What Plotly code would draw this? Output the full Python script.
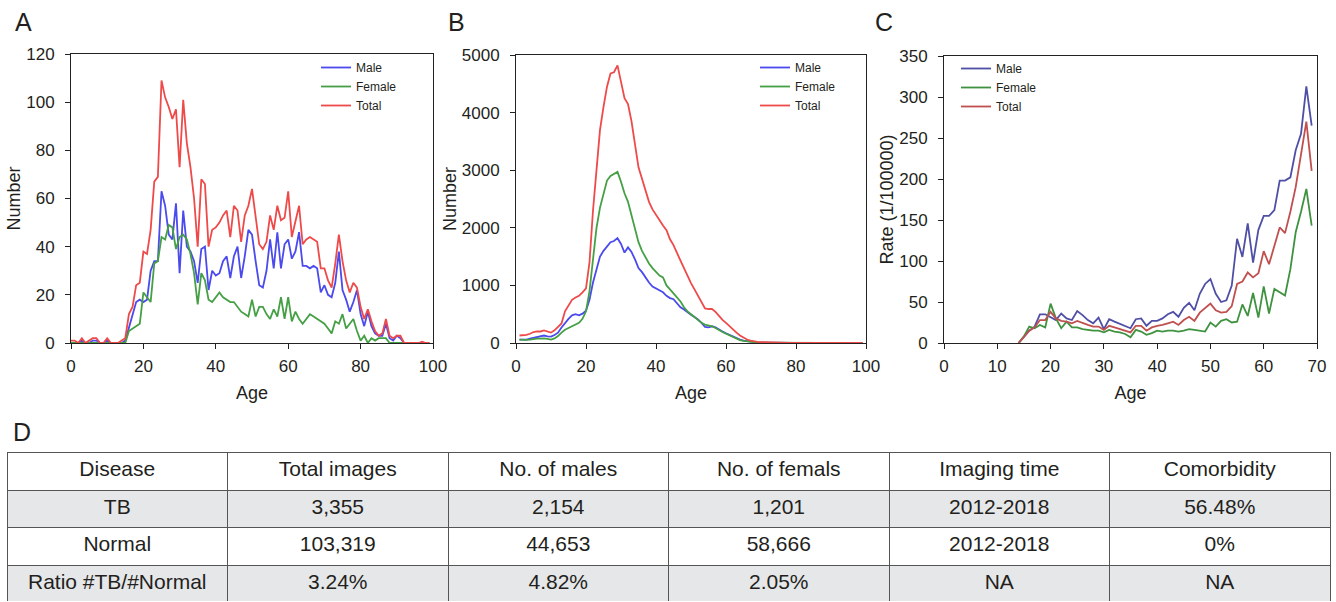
import plotly.graph_objects as go

# ---------------- Data ----------------
ages_a = list(range(0, 100))
a_male = [0,0,0,1,0,0,1,1,0,0, 1,0,0,0,0,1,6,12,17,18,
          17,18,30,34,34,63,57,45,43,58, 29,55,40,38,34,25,39,40,22,30,
          28,29,34,36,27,36,40,27,36,47, 45,34,24,23,30,43,31,46,31,41,
          43,35,38,46,32,32,31,32,31,21, 24,20,19,25,38,22,18,13,17,22,
          12,7,13,7,4,3,3,8,2,1, 3,2,0,0,0,0,0,0,0,0]
a_female = [0,0,0,0,0,0,0,0,0,0, 0,0,0,0,0,0,5,6,7,8,
            21,19,17,33,34,44,43,49,48,39, 44,45,43,37,29,16,29,26,18,17,
            19,21,19,18,17,17,15,13,12,11, 18,11,15,15,12,10,14,11,19,10,
            19,9,13,10,8,10,12,11,10,9, 8,6,4,9,8,12,6,8,10,5,
            1,3,0,2,1,2,2,2,0,0, 0,0,0,0,0,0,0,0,0,0]
a_total = [1,1,0,2,0,1,2,2,0,0, 2,0,0,0,1,2,12,15,24,25,
           38,37,47,67,69,109,102,98,93,97, 73,101,83,73,60,40,68,66,40,47,
           48,50,53,55,44,57,55,42,53,57, 64,52,41,39,42,53,47,57,51,52,
           63,44,50,57,41,43,44,43,42,31, 31,26,23,33,45,34,26,21,25,23,
           15,10,14,9,5,3,4,10,3,2, 3,3,0,0,0,0,0,0.5,0,0]

ages_b = list(range(1, 100))
b_male = [60,55,60,75,90,100,120,130,115,110,
          140,180,270,350,420,480,500,480,510,560,
          750,1050,1300,1500,1600,1680,1750,1770,1820,1720,
          1570,1660,1580,1450,1300,1230,1130,1050,980,950,
          920,880,820,780,760,680,620,580,530,490,
          450,410,350,280,270,290,270,230,200,170,
          140,110,80,60,40,30,20,15,10,8,
          6,5,4,3,3,2,2,2,1,1,1,1,1,1,0,0,0,0,0,0,0,0,0,0,0,0,0,0,0]
b_female = [60,55,55,60,70,75,75,80,70,60,
            80,120,180,230,260,290,310,350,420,550,
            900,1500,2000,2350,2600,2820,2900,2930,2970,2800,
            2600,2450,2200,1950,1750,1600,1480,1380,1300,1240,
            1170,1140,1000,930,860,800,720,620,550,500,
            450,400,350,320,310,290,260,220,190,160,
            130,100,70,50,35,25,15,10,8,5,
            4,3,3,2,2,2,1,1,1,1,1,1,1,0,0,0,0,0,0,0,0,0,0,0,0,0,0,0,0]
b_total = [130,130,140,160,190,200,200,220,200,180,
           220,280,340,550,650,750,790,820,880,950,
           1400,2300,3000,3700,4100,4450,4680,4700,4820,4550,
           4250,4150,3850,3450,3050,2850,2650,2450,2320,2220,
           2130,2040,1960,1800,1700,1550,1430,1300,1160,1040,
           930,820,720,600,590,590,540,470,400,350,
           290,230,180,130,90,60,40,25,20,15,
           12,10,8,6,5,4,4,3,3,2,2,2,1,1,1,1,1,1,1,1,0,0,0,0,0,0,0,0,0]

ages_c = list(range(14, 70))
c_male = [0,7,15,20,35,35,32,28,36,30,28,39,34,28,24,31,17,29,26,23,21,18,29,30,21,27,
          27,30,35,38,32,43,49,40,60,72,78,60,50,52,70,127,105,146,98,138,155,155,162,198,
          198,202,235,255,313,265]
c_female = [0,8,20,18,22,19,48,30,18,26,19,19,17,16,15,15,13,16,14,13,11,7,16,14,10,12,
            15,14,15,15,14,15,17,16,15,14,25,20,27,29,25,26,47,33,61,31,69,36,66,62,
            58,90,135,160,188,143]
c_total = [0,7,15,19,28,28,38,30,27,26,24,27,24,22,20,20,16,21,19,17,15,13,21,21,15,19,
           21,22,24,26,22,28,32,27,37,42,48,40,37,38,45,72,75,86,80,85,112,96,118,141,
           134,160,190,230,270,210]

series_names = ["Male", "Female", "Total"]

table_header = ["Disease", "Total images", "No. of males", "No. of femals", "Imaging time", "Comorbidity"]
col_disease = ["TB", "Normal", "Ratio #TB/#Normal"]
col_total = ["3,355", "103,319", "3.24%"]
col_males = ["2,154", "44,653", "4.82%"]
col_females = ["1,201", "58,666", "2.05%"]
col_time = ["2012-2018", "2012-2018", "NA"]
col_comorb = ["56.48%", "0%", "NA"]

# ---------------- Styling ----------------
W, H = 1336, 602
FONT = "Liberation Sans, Arial, sans-serif"
TXT = "#231f20"
colors_ab = ["#4a4aee", "#45a045", "#ef4a4a"]
colors_c = ["#4f4fa6", "#3f923f", "#c0504f"]

def px_x(p):
    return p / W

def px_y(p):
    return 1 - p / H

fig = go.Figure()

panels = [
    (ages_a, [a_male, a_female, a_total], colors_ab, "x", "y", "legend"),
    (ages_b, [b_male, b_female, b_total], colors_ab, "x2", "y2", "legend2"),
    (ages_c, [c_male, c_female, c_total], colors_c, "x3", "y3", "legend3"),
]
for ages, ser, cols, xa, ya, lg in panels:
    for name, vals, col in zip(series_names, ser, cols):
        fig.add_trace(go.Scatter(x=ages, y=vals, mode="lines", name=name,
                                 line=dict(color=col, width=1.8),
                                 xaxis=xa, yaxis=ya, legend=lg))

axis_common = dict(showline=True, linecolor="#222", linewidth=1, mirror=True,
                   ticks="outside", ticklen=5, tickcolor="#222", showgrid=False,
                   zeroline=False, automargin=False,
                   tickfont=dict(family=FONT, size=17, color=TXT),
                   title_font=dict(family=FONT, size=18, color=TXT))
xcommon = dict(ticklabelstandoff=3, **axis_common)
ycommon = dict(ticklabelstandoff=7, **axis_common)

fig.update_layout(
    width=W, height=H, margin=dict(l=0, r=0, t=0, b=0, autoexpand=False),
    paper_bgcolor="white", plot_bgcolor="white",
    xaxis=dict(domain=[px_x(71), px_x(433)], range=[0, 100], dtick=20,
               anchor="y", title=dict(text="Age", standoff=10), **xcommon),
    yaxis=dict(domain=[px_y(343), px_y(54)], range=[0, 120], dtick=20,
               anchor="x", title=dict(text="Number", standoff=0), **ycommon),
    xaxis2=dict(domain=[px_x(516), px_x(866)], range=[0, 100], dtick=20,
                anchor="y2", title=dict(text="Age", standoff=10), **xcommon),
    yaxis2=dict(domain=[px_y(343), px_y(55)], range=[0, 5000], dtick=1000,
                anchor="x2", title=dict(text="Number", standoff=0), **ycommon),
    xaxis3=dict(domain=[px_x(944), px_x(1317)], range=[0, 70], dtick=10,
                anchor="y3", title=dict(text="Age", standoff=10), **xcommon),
    yaxis3=dict(domain=[px_y(343), px_y(56)], range=[0, 350], dtick=50,
                anchor="x3", title=dict(text="Rate (1/100000)", standoff=0), **ycommon),
    showlegend=True,
)

leg_common = dict(bgcolor="rgba(0,0,0,0)", font=dict(family=FONT, size=12, color=TXT),
                  xanchor="left", yanchor="top", itemwidth=30, tracegroupgap=0)
fig.update_layout(
    legend=dict(x=px_x(316), y=px_y(53), **leg_common),
    legend2=dict(x=px_x(755), y=px_y(53), **leg_common),
    legend3=dict(x=px_x(956), y=px_y(54), **leg_common),
)

# Table D
fills = ["#e6e7e9", "white", "#e6e7e9"]
fig.add_trace(go.Table(
    domain=dict(x=[px_x(7), px_x(1330)], y=[0, px_y(452)]),
    columnwidth=[1] * 6,
    header=dict(values=table_header, height=38, align="center",
                fill_color="white", line=dict(color="#555", width=1),
                font=dict(family=FONT, size=21, color=TXT)),
    cells=dict(values=[col_disease, col_total, col_males, col_females, col_time, col_comorb],
               height=37.5, align="center",
               fill_color=[fills] * 6, line=dict(color="#555", width=1),
               font=dict(family=FONT, size=21, color=TXT)),
))

# Panel letters
for letter, x, y in [("A", 13, 22), ("B", 446, 22), ("C", 873, 22), ("D", 11, 432)]:
    fig.add_annotation(text=letter, x=px_x(x), y=px_y(y), xref="paper", yref="paper",
                       xanchor="left", yanchor="middle", showarrow=False,
                       font=dict(family=FONT, size=25, color=TXT))

fig.write_html("out.html", config={"displayModeBar": False},
               post_script="document.body.style.margin='0';")
